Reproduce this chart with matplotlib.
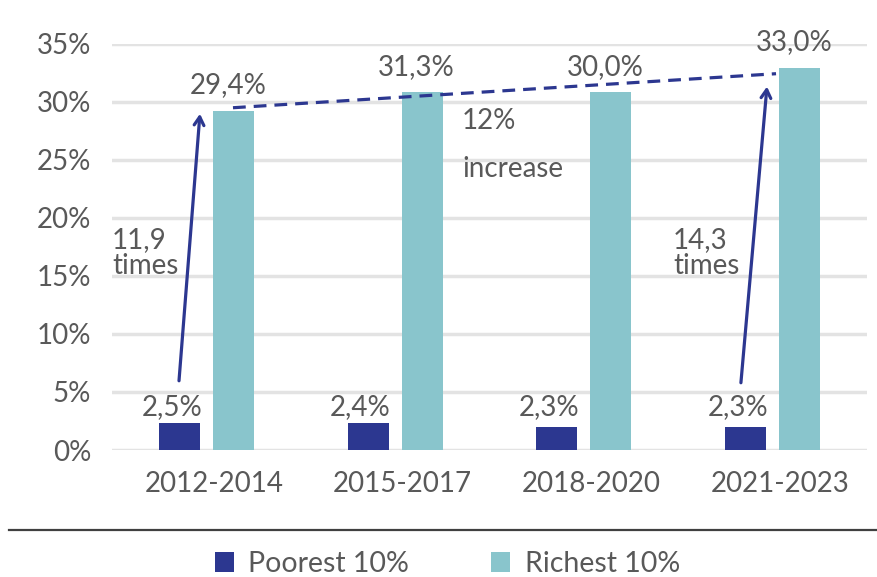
import matplotlib
matplotlib.use('Agg')
import matplotlib.pyplot as plt
import numpy as np

plt.rcParams['font.family'] = ['Lato', 'DejaVu Sans']

# 데이터
periods = ['2012-2014', '2015-2017', '2018-2020', '2021-2023']
poorest = [2.35, 2.35, 2.0, 2.0]
richest = [29.2, 30.8, 30.8, 32.9]
poorest_labels = ['2,5%', '2,4%', '2,3%', '2,3%']
richest_labels = ['29,4%', '31,3%', '30,0%', '33,0%']
yticks = [0, 5, 10, 15, 20, 25, 30, 35]

navy = '#2C3790'
teal = '#89C5CC'
gray = '#595959'
fs = 20

fig = plt.figure(figsize=(8.77, 5.77), dpi=100)
ax = fig.add_axes([0.1277, 0.2201, 0.8609, 0.7045])

x = np.arange(len(periods))
w = 0.217
off = 0.143
ax.bar(x - off, poorest, w, color=navy, label='Poorest 10%', zorder=3)
ax.bar(x + off, richest, w, color=teal, label='Richest 10%', zorder=3)

# 값 표시
for i in range(len(periods)):
    ax.text(x[i] - off - 0.04, 3.0, poorest_labels[i], ha='center', va='baseline',
            fontsize=fs, color=gray)
    ax.text(x[i] + off - 0.03, richest[i] + 1.5, richest_labels[i], ha='center',
            va='baseline', fontsize=fs, color=gray)

ax.set_xlim(-0.5, 3.5)
ax.set_ylim(0, 35)
ax.set_yticks(yticks)
ax.set_yticklabels([f'{v}%' for v in yticks])
ax.set_xticks(x + 0.04)
ax.set_xticklabels(periods)
ax.tick_params(axis='both', length=0, labelsize=fs, labelcolor=gray)
ax.tick_params(axis='y', pad=15)
ax.tick_params(axis='x', pad=15)
ax.grid(axis='y', color='#E3E3E3', linewidth=2.5, zorder=0)
for s in ax.spines.values():
    s.set_visible(False)

# 화살표와 주석
arrow = dict(arrowstyle='->,head_length=0.6,head_width=0.35', color=navy, lw=2.3,
             shrinkA=0, shrinkB=0)
ax.annotate('', xy=(-0.034, 28.95), xytext=(-0.145, 5.96), arrowprops=arrow, zorder=4)
ax.annotate('', xy=(2.970, 31.29), xytext=(2.832, 5.79), arrowprops=arrow, zorder=4)
ax.plot([0.141, 3.018], [29.47, 32.4], color=navy, lw=2.3, ls=(0, (4, 2.5)), zorder=4)

ax.text(-0.5, 16.95, '11,9\ntimes', ha='left', va='center', fontsize=fs, color=gray,
        linespacing=1.0)
ax.text(2.472, 16.95, '14,3\ntimes', ha='left', va='center', fontsize=fs, color=gray,
        linespacing=1.0)
ax.text(1.354, 28.35, '12%', ha='left', va='center', fontsize=fs, color=gray)
ax.text(1.354, 24.2, 'increase', ha='left', va='center', fontsize=fs, color=gray)

# 구분선
fig.add_artist(plt.Line2D([0.01, 1.0], [1 - 530 / 577, 1 - 530 / 577],
                          color='#404040', lw=1.6))

fig.legend(loc='center', bbox_to_anchor=(0.510, 1 - 564 / 577), ncol=2, frameon=False,
           fontsize=20.5, labelcolor=gray, handlelength=0.67, handleheight=0.67,
           handletextpad=0.5, columnspacing=2.9)

fig.savefig('out.png', dpi=100)
